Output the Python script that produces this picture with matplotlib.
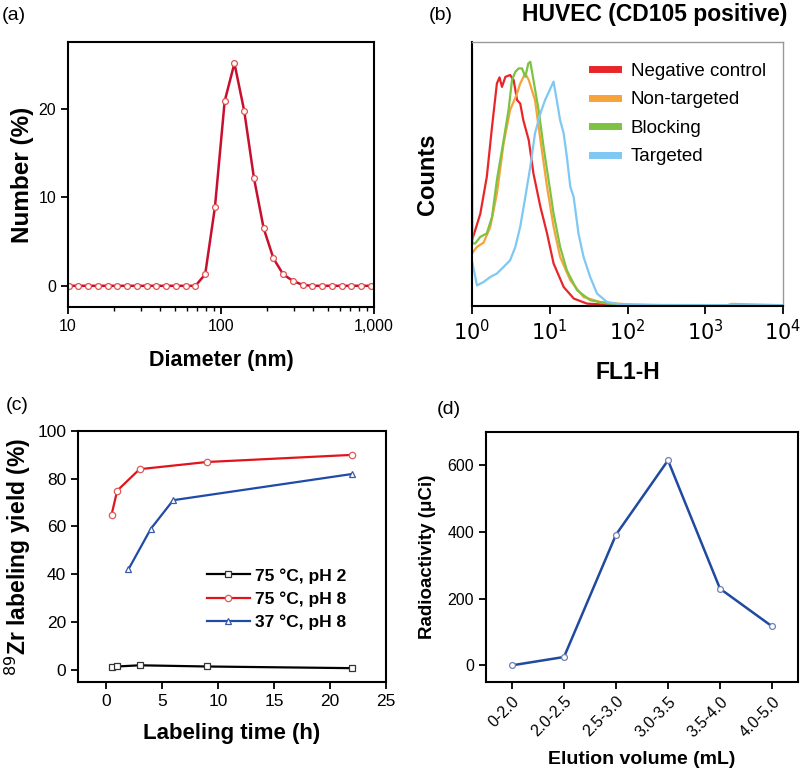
import numpy as np
import matplotlib
matplotlib.use("Agg")
import matplotlib.pyplot as plt
from matplotlib.ticker import LogLocator, FixedLocator, FuncFormatter, NullFormatter

plt.rcParams['font.family'] = ['Liberation Sans', 'DejaVu Sans']
plt.rcParams['axes.linewidth'] = 1.5

# (a) size distribution
diam = [10.10, 11.70, 13.54, 15.69, 18.17, 21.04, 24.36, 28.21, 32.67, 37.84, 43.82,
        50.75, 58.77, 68.06, 78.82, 91.28, 105.7, 122.4, 141.8, 164.2, 190.1, 220.2,
        255.0, 295.3, 342.0, 396.1, 458.7, 531.2, 615.1, 712.4, 825.0, 955.4]
number = [0, 0, 0, 0, 0, 0, 0, 0, 0, 0, 0, 0, 0, 0, 1.3, 8.9, 20.9, 25.2, 19.8, 12.2,
          6.5, 3.1, 1.3, 0.55, 0.1, 0, 0, 0, 0, 0, 0, 0]

# (b) flow cytometry histograms
neg_x = [1.0, 1.1, 1.28, 1.55, 1.81, 2.09, 2.26, 2.43, 2.69, 3.09, 3.43, 3.8, 4.17,
         4.57, 5.37, 6.17, 7.59, 9.23, 11.2, 15.1, 20.4, 30.2, 66.1, 200, 10000]
neg_y = [25, 28.7, 35, 48.9, 67.9, 84.3, 86.6, 83, 86.8, 87.5, 85.6, 78, 76.7, 70.4,
         62.8, 50.2, 37.5, 27.5, 16.1, 7.2, 2.8, 0.9, 0.3, 0.2, 0.2]
non_x = [1.0, 1.16, 1.41, 1.72, 2.09, 2.55, 3.09, 3.8, 4.17, 4.84, 5.37, 5.89, 6.46,
         7.59, 9.23, 11.2, 13.6, 18.4, 27.2, 44.7, 97.7, 300, 1900, 2200, 10000]
non_y = [19.9, 22.4, 24, 30, 42.6, 61.6, 74.2, 80.5, 84.3, 88.1, 85.6, 81.8, 78, 62.8,
         45.1, 30, 18.6, 9.7, 3.4, 1.5, 0.6, 0.3, 0.3, 0.8, 0.3]
blk_x = [1.0, 1.01, 1.1, 1.28, 1.55, 1.81, 2.09, 2.55, 2.95, 3.27, 3.61, 3.98, 4.4,
         4.85, 5.3, 5.62, 6.17, 7.19, 8.32, 9.66, 11.2, 13.6, 16.6, 22.4, 33.1, 55.0,
         120, 10000]
blk_y = [97, 23.7, 23.7, 26.2, 27.5, 33.8, 47.7, 62.8, 74.2, 85.6, 88.7, 90, 90, 86.8,
         91.9, 92.5, 85.6, 74.2, 60.3, 47.7, 35, 22.4, 13.5, 6, 2.2, 0.9, 0.4, 0.3]
tgt_x = [1.0, 1.16, 1.41, 1.72, 2.09, 2.55, 3.09, 3.61, 4.17, 4.85, 5.62, 6.46, 7.59,
         8.71, 10.2, 11.2, 12.3, 13.6, 15.1, 16.6, 18.4, 20.3, 23.4, 27.2, 33.1, 40.6,
         54.5, 80.8, 200, 10000]
tgt_y = [17, 7.8, 9.1, 11, 12.3, 14.8, 17.3, 22.4, 30, 41.3, 52.7, 65.4, 73, 78, 82.4,
         85, 78, 70.4, 65.4, 56.5, 45.1, 41.3, 27.5, 18.6, 11, 4.7, 1.5, 0.6, 0.3, 0.3]

# (c) labeling kinetics
t_ph2 = [0.5, 1, 3, 9, 22]
y_ph2 = [1.2, 1.3, 1.8, 1.3, 0.6]
t_75ph8 = [0.5, 1, 3, 9, 22]
y_75ph8 = [65, 75, 84, 87, 90]
t_37ph8 = [2, 4, 6, 22]
y_37ph8 = [42, 59, 71, 82]

# (d) elution profile
fractions = ['0-2.0', '2.0-2.5', '2.5-3.0', '3.0-3.5', '3.5-4.0', '4.0-5.0']
activity = [0, 25, 392, 615, 230, 117]

W, H = 800, 771
fig = plt.figure(figsize=(W / 100, H / 100), dpi=100)


def box(l, r, t, b):
    return fig.add_axes([l / W, 1 - b / H, (r - l) / W, (b - t) / H])


tick_kw = dict(direction='out', width=1.3, length=5)

# ---- (a)
ax = box(68, 374, 42, 307)
ax.plot(diam, number, color='#c8102e', lw=1.8, marker='o', ms=4.2,
        mfc='white', mec='#e0504f', mew=0.9)
ax.set_xscale('log')
ax.set_xlim(10, 1000)
ax.set_ylim(-2.4, 27.6)
ax.set_yticks([0, 10, 20])
ax.xaxis.set_major_formatter(FuncFormatter(lambda v, p: f'{int(round(v)):,}'))
ax.xaxis.set_minor_locator(LogLocator(subs=np.arange(2, 10)))
ax.xaxis.set_minor_formatter(NullFormatter())
ax.tick_params(which='major', labelsize=11.5, **tick_kw)
ax.tick_params(which='minor', direction='out', width=1, length=3)
ax.set_xlabel('Diameter (nm)', labelpad=12, fontsize=15.5, fontweight='bold')
ax.set_ylabel('Number (%)', labelpad=3, fontsize=17.5, fontweight='bold')
fig.text(2 / W, 1 - 16 / H, '(a)', fontsize=14, va='center')

# ---- (b)
ax = box(472, 783, 42, 306)
ax.plot(neg_x, neg_y, color='#e8262a', lw=1.6, label='Negative control')
ax.plot(non_x, non_y, color='#f7a23b', lw=1.6, label='Non-targeted')
ax.plot(blk_x, blk_y, color='#7dc242', lw=1.6, label='Blocking')
ax.plot(tgt_x, tgt_y, color='#7ec8f3', lw=1.6, label='Targeted')
ax.set_xscale('log')
ax.set_xlim(1, 1e4)
ax.set_ylim(0, 100)
ax.set_yticks([])
ax.xaxis.set_major_locator(FixedLocator([1, 10, 100, 1000, 10000]))
ax.xaxis.set_major_formatter(FuncFormatter(lambda v, p: f'$10^{{{int(round(np.log10(v)))}}}$'))
ax.xaxis.set_minor_locator(LogLocator(subs=np.arange(2, 10)))
ax.xaxis.set_minor_formatter(NullFormatter())
ax.tick_params(which='major', direction='out', width=1.3, length=6, labelsize=15)
ax.tick_params(which='minor', direction='out', width=1, length=3)
for s in ['top', 'right']:
    ax.spines[s].set_color('#999999')
    ax.spines[s].set_linewidth(1)
leg = ax.legend(loc='upper right', frameon=False, fontsize=13.5, handlelength=1.4,
                handletextpad=0.7, labelspacing=0.6, bbox_to_anchor=(1.0, 0.985))
for h in leg.get_lines():
    h.set_linewidth(5)
ax.set_xlabel('FL1-H', labelpad=12, fontsize=16.5, fontweight='bold')
ax.set_ylabel('Counts', labelpad=24, fontsize=17, fontweight='bold')
fig.text(655 / W, 1 - 15 / H, 'HUVEC (CD105 positive)', fontsize=16.5,
         fontweight='bold', ha='center', va='center')
fig.text(429 / W, 1 - 16 / H, '(b)', fontsize=14, va='center')

# ---- (c)
ax = box(78, 386, 431, 682)
ax.plot(t_ph2, y_ph2, color='black', lw=1.6, marker='s', ms=4.2, mfc='white',
        mec='#333333', mew=0.9, label='75 \u00b0C, pH 2')
ax.plot(t_75ph8, y_75ph8, color='#e0151b', lw=1.6, marker='o', ms=4.6, mfc='white',
        mec='#e05a5a', mew=0.9, label='75 \u00b0C, pH 8')
ax.plot(t_37ph8, y_37ph8, color='#1f4aa8', lw=1.6, marker='^', ms=5, mfc='white',
        mec='#3a5aa8', mew=0.9, label='37 \u00b0C, pH 8')
ax.set_xlim(-2.5, 25)
ax.set_ylim(-5.2, 100)
ax.set_xticks([0, 5, 10, 15, 20, 25])
ax.set_yticks([0, 20, 40, 60, 80, 100])
ax.tick_params(labelsize=12.5, **tick_kw)
ax.legend(loc='center right', frameon=False, bbox_to_anchor=(0.9, 0.33),
          prop=dict(size=12.5, weight='bold'), handlelength=2.5, labelspacing=0.45,
          handletextpad=0.3, borderpad=0)
ax.set_xlabel('Labeling time (h)', labelpad=10, fontsize=16, fontweight='bold')
ax.set_ylabel('$^{89}$Zr labeling yield (%)', labelpad=3, fontsize=16.5,
              fontweight='bold')
fig.text(6 / W, 1 - 405 / H, '(c)', fontsize=14, va='center')

# ---- (d)
ax = box(486, 798, 432, 682)
xs = np.arange(len(fractions))
ax.plot(xs, activity, color='#1f4aa0', lw=1.8, marker='o', ms=4.2, mfc='white',
        mec='#6f7fb5', mew=0.9)
ax.set_xlim(-0.5, 5.5)
ax.set_ylim(-50, 700)
ax.set_xticks(xs)
ax.set_xticklabels(fractions, rotation=45, ha='right', rotation_mode='anchor')
ax.set_yticks([0, 200, 400, 600])
ax.tick_params(labelsize=11.5, **tick_kw)
ax.set_xlabel('Elution volume (mL)', labelpad=8, fontsize=14, fontweight='bold')
ax.set_ylabel('Radioactivity (\u03bcCi)', labelpad=8, fontsize=13.5, fontweight='bold')
fig.text(437 / W, 1 - 410 / H, '(d)', fontsize=14, va='center')

fig.savefig('out.png', dpi=100)
